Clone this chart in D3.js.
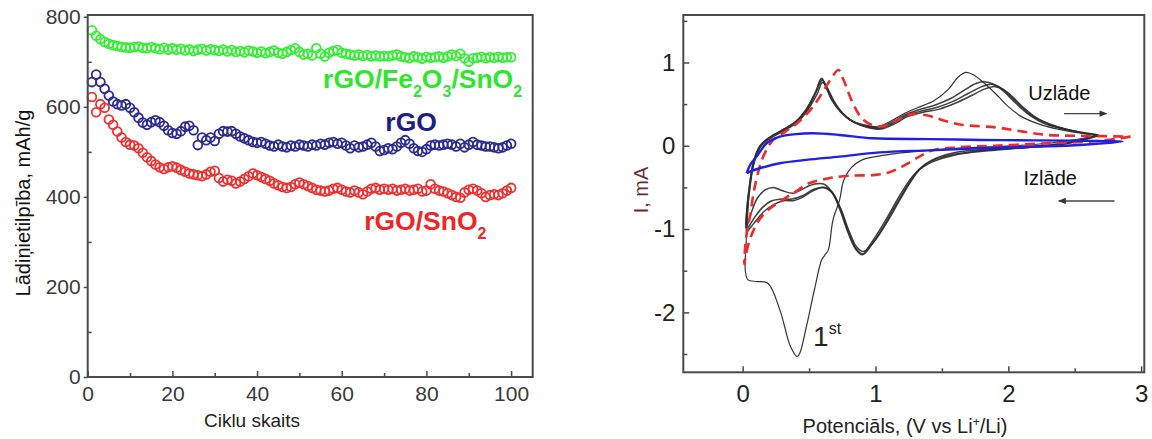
<!DOCTYPE html>
<html>
<head>
<meta charset="utf-8">
<script src="https://cdn.jsdelivr.net/npm/d3@7"></script>
<style>
  body { margin: 0; background: #fff; }
  svg { display: block; font-family: "Liberation Sans", Arial, sans-serif; }
  .frame { fill: none; stroke: #4a4a4a; stroke-width: 2; }
  .axis path { display: none; }
  .axis line { stroke: #4a4a4a; stroke-width: 1.5; }
</style>
</head>
<body>
<div id="chart"></div>
<script>
// ---- left panel: capacity vs cycle number ----
var cycles = d3.range(1, 101);

var capFeSn = [770, 758, 750, 744, 740, 737, 735, 733, 732, 731,
  733, 734, 731, 730, 733, 730, 728, 731, 727, 730,
  727, 729, 725, 728, 724, 727, 729, 725, 728, 726,
  724, 727, 723, 726, 722, 724, 721, 725, 723, 720,
  723, 719, 722, 725, 720, 718, 722, 726, 730, 722,
  716, 718, 714, 730, 718, 712, 720, 724, 726, 720,
  718, 716, 714, 716, 713, 715, 712, 714, 712, 713,
  712, 714, 716, 712, 710, 708, 712, 710, 707, 711,
  709, 710, 712, 709, 712, 716, 713, 718, 708, 700,
  708, 709, 711, 708, 710, 709, 711, 709, 710, 710];

var capRGO = [655, 672, 655, 640, 625, 612, 606, 603, 606, 598,
  588, 576, 565, 560, 566, 570, 566, 558, 548, 542,
  540, 546, 556, 558, 548, 515, 532, 526, 532, 524,
  540, 546, 545, 546, 540, 534, 530, 526, 522, 520,
  522, 518, 514, 512, 516, 512, 510, 514, 512, 516,
  514, 512, 516, 514, 518, 516, 520, 522, 518, 520,
  514, 508, 514, 510, 512, 516, 520, 512, 502, 504,
  508, 506, 512, 520, 526, 518, 508, 502, 500, 506,
  514, 516, 514, 516, 518, 516, 512, 518, 510, 516,
  522, 516, 514, 512, 512, 510, 508, 510, 514, 518];

var capSn = [622, 588, 606, 598, 572, 560, 545, 532, 522, 516,
  514, 508, 498, 488, 480, 472, 466, 462, 466, 468,
  465, 460, 456, 452, 450, 448, 446, 450, 456, 458,
  442, 434, 438, 436, 430, 434, 440, 446, 452, 448,
  444, 440, 436, 430, 426, 422, 420, 422, 428, 432,
  428, 424, 420, 416, 414, 412, 414, 418, 420, 416,
  412, 410, 414, 410, 406, 412, 418, 420, 416, 418,
  416, 418, 414, 416, 418, 414, 416, 418, 412, 414,
  428, 418, 414, 412, 408, 404, 400, 398, 410, 416,
  418, 414, 408, 400, 404, 406, 404, 408, 414, 420];

var leftXTicks = [0, 20, 40, 60, 80, 100];
var leftXMinor = [10, 30, 50, 70, 90];
var leftYTicks = [0, 200, 400, 600, 800];
var leftYMinor = [100, 300, 500, 700];

// ---- right panel: cyclic voltammetry (V, mA) ----
var cvBlue = [[0.03, -0.33], [0.06, -0.22], [0.105, -0.13], [0.18, 0.03], [0.28, 0.11],
  [0.4, 0.14], [0.53, 0.15], [0.73, 0.13], [0.98, 0.09], [1.4, 0.08], [1.79, 0.07],
  [2.2, 0.065], [2.54, 0.06], [2.86, 0.05], [2.54, 0.01], [2.2, -0.01], [1.79, -0.03],
  [1.4, -0.055], [1.03, -0.08], [0.73, -0.13], [0.48, -0.17], [0.28, -0.21],
  [0.13, -0.27], [0.055, -0.31], [0.03, -0.33]];

var cvRed = [[2.92, 0.11], [2.7, 0.06], [2.3, 0.03], [1.9, 0.0], [1.6, -0.02], [1.42, -0.06],
  [1.32, -0.14], [1.2, -0.25], [1.1, -0.32], [1.0, -0.35], [0.8, -0.36], [0.65, -0.39],
  [0.5, -0.45], [0.4, -0.55], [0.3, -0.65], [0.2, -0.76], [0.12, -0.9], [0.06, -1.1],
  [0.025, -1.3], [0.012, -1.42], [0.02, -1.2], [0.035, -1.0], [0.055, -0.85],
  [0.09, -0.5], [0.155, -0.13], [0.23, 0.07], [0.32, 0.17], [0.41, 0.27], [0.53, 0.47],
  [0.66, 0.79], [0.72, 0.91], [0.76, 0.79], [0.83, 0.51], [0.91, 0.31], [1.03, 0.23],
  [1.15, 0.3], [1.27, 0.38], [1.4, 0.36], [1.52, 0.3], [1.66, 0.25], [1.91, 0.22],
  [2.11, 0.17], [2.29, 0.13], [2.54, 0.12], [2.92, 0.11]];

// first cycle (thin line)
var cvCycle1 = [[2.68, 0.12], [2.3, 0.03], [1.9, -0.01], [1.6, -0.03], [1.3, -0.07],
  [1.12, -0.1], [1.0, -0.13], [0.9, -0.17], [0.82, -0.26], [0.76, -0.42], [0.73, -0.65],
  [0.68, -0.89], [0.645, -1.25], [0.62, -1.31], [0.595, -1.37], [0.54, -1.73],
  [0.48, -2.17], [0.43, -2.49], [0.41, -2.53], [0.36, -2.41], [0.28, -1.97],
  [0.19, -1.65], [0.105, -1.63], [0.04, -1.61], [0.02, -1.5], [0.025, -1.2],
  [0.035, -0.9], [0.05, -0.55], [0.08, -0.25], [0.13, -0.02], [0.2, 0.09], [0.3, 0.18],
  [0.4, 0.28], [0.49, 0.44], [0.55, 0.64], [0.59, 0.8], [0.62, 0.74], [0.67, 0.56],
  [0.74, 0.41], [0.82, 0.3], [0.92, 0.25], [1.02, 0.23], [1.12, 0.3], [1.22, 0.39],
  [1.32, 0.46], [1.44, 0.54], [1.55, 0.68], [1.62, 0.82], [1.68, 0.88], [1.74, 0.85],
  [1.82, 0.75], [1.92, 0.6], [2.0, 0.47], [2.1, 0.35], [2.25, 0.25], [2.4, 0.19],
  [2.55, 0.15], [2.68, 0.12]];

var cvCycle2 = [[2.68, 0.13], [2.45, 0.04], [2.15, -0.01], [1.85, -0.04], [1.6, -0.08],
  [1.47, -0.14], [1.36, -0.24], [1.27, -0.42], [1.18, -0.66], [1.09, -0.91],
  [0.99, -1.15], [0.91, -1.27], [0.86, -1.22], [0.8, -1.02], [0.74, -0.76],
  [0.67, -0.55], [0.61, -0.46], [0.54, -0.46], [0.45, -0.52], [0.38, -0.57],
  [0.3, -0.54], [0.23, -0.5], [0.17, -0.53], [0.11, -0.63], [0.07, -0.78],
  [0.04, -0.93], [0.025, -0.98], [0.03, -0.8], [0.05, -0.5], [0.08, -0.2], [0.13, 0.0],
  [0.2, 0.1], [0.3, 0.19], [0.4, 0.29], [0.48, 0.44], [0.55, 0.65], [0.595, 0.81],
  [0.62, 0.73], [0.67, 0.55], [0.74, 0.4], [0.82, 0.3], [0.92, 0.24], [1.02, 0.22],
  [1.12, 0.28], [1.22, 0.37], [1.32, 0.43], [1.45, 0.49], [1.57, 0.57], [1.68, 0.68],
  [1.76, 0.75], [1.82, 0.77], [1.89, 0.74], [1.96, 0.66], [2.05, 0.52], [2.15, 0.38],
  [2.28, 0.26], [2.42, 0.2], [2.56, 0.16], [2.68, 0.13]];

var cvCycle3 = [[2.68, 0.13], [2.45, 0.03], [2.15, -0.02], [1.85, -0.05], [1.6, -0.1],
  [1.44, -0.17], [1.33, -0.28], [1.24, -0.48], [1.15, -0.72], [1.06, -0.97],
  [0.97, -1.19], [0.91, -1.3], [0.86, -1.25], [0.8, -1.05], [0.74, -0.78],
  [0.68, -0.57], [0.62, -0.5], [0.54, -0.52], [0.45, -0.6], [0.37, -0.64],
  [0.29, -0.64], [0.22, -0.66], [0.15, -0.74], [0.09, -0.86], [0.05, -0.96],
  [0.03, -1.0], [0.03, -0.8], [0.05, -0.5], [0.08, -0.21], [0.13, -0.01],
  [0.2, 0.09], [0.3, 0.19], [0.4, 0.29], [0.48, 0.44], [0.55, 0.64], [0.6, 0.79],
  [0.63, 0.71], [0.68, 0.54], [0.75, 0.39], [0.83, 0.29], [0.93, 0.23], [1.03, 0.21],
  [1.13, 0.27], [1.23, 0.36], [1.33, 0.41], [1.46, 0.46], [1.58, 0.53], [1.7, 0.63],
  [1.8, 0.71], [1.87, 0.74], [1.93, 0.71], [2.0, 0.62], [2.09, 0.48], [2.19, 0.35],
  [2.32, 0.25], [2.46, 0.19], [2.58, 0.15], [2.68, 0.13]];

var cvCycle4 = [[2.68, 0.12], [2.45, 0.03], [2.15, -0.02], [1.85, -0.06], [1.6, -0.11],
  [1.42, -0.2], [1.3, -0.33], [1.2, -0.55], [1.11, -0.8], [1.02, -1.04],
  [0.95, -1.21], [0.9, -1.31], [0.85, -1.24], [0.79, -1.03], [0.73, -0.76],
  [0.67, -0.56], [0.6, -0.5], [0.52, -0.55], [0.45, -0.62], [0.38, -0.66],
  [0.31, -0.66], [0.24, -0.7], [0.16, -0.79], [0.09, -0.92], [0.05, -1.0],
  [0.03, -1.04], [0.035, -0.8], [0.055, -0.5], [0.085, -0.2], [0.14, 0.0],
  [0.21, 0.09], [0.31, 0.18], [0.41, 0.28], [0.49, 0.43], [0.56, 0.62], [0.6, 0.76],
  [0.635, 0.7], [0.69, 0.53], [0.76, 0.38], [0.84, 0.28], [0.94, 0.22], [1.04, 0.2],
  [1.14, 0.26], [1.24, 0.35], [1.35, 0.4], [1.48, 0.44], [1.6, 0.51], [1.72, 0.6],
  [1.82, 0.68], [1.9, 0.71], [1.96, 0.68], [2.03, 0.59], [2.12, 0.45], [2.22, 0.33],
  [2.35, 0.24], [2.48, 0.18], [2.6, 0.14], [2.68, 0.12]];

var rightXTicks = [0, 1, 2, 3];
var rightXMinor = [0.5, 1.5, 2.5];
var rightYTicks = [-2, -1, 0, 1];
var rightYMinor = [-2.5, -1.5, -0.5, 0.5, 1.5];

var W = 1152, H = 439;
var svg = d3.select("#chart").append("svg")
    .attr("width", W)
    .attr("height", H);

// ================= left panel =================
var xL = d3.scaleLinear().domain([0, 105.1]).range([87.7, 532.7]);
var yL = d3.scaleLinear().domain([0, 804]).range([377, 15]);

var gL = svg.append("g");

function addAxis(g, axis, transform, fontSize, color) {
  var a = g.append("g").attr("class", "axis").attr("transform", transform).call(axis);
  a.selectAll("text")
    .style("font-size", fontSize + "px")
    .style("fill", color)
    .style("font-family", "'Liberation Sans', Arial, sans-serif");
  return a;
}

addAxis(gL, d3.axisBottom(xL).tickValues(leftXTicks).tickSize(-6).tickPadding(9),
  "translate(0," + yL(0) + ")", 21, "#3a3a3a");
addAxis(gL, d3.axisBottom(xL).tickValues(leftXMinor).tickSize(-4).tickFormat(""),
  "translate(0," + yL(0) + ")", 21, "#3a3a3a");
addAxis(gL, d3.axisLeft(yL).tickValues(leftYTicks).tickSize(4).tickPadding(3),
  "translate(" + xL(0) + ",0)", 21, "#3a3a3a");
addAxis(gL, d3.axisLeft(yL).tickValues(leftYMinor).tickSize(-4).tickFormat(""),
  "translate(" + xL(0) + ",0)", 21, "#3a3a3a");

var seriesL = [
  {values: capFeSn, color: "#33ee33"},
  {values: capRGO, color: "#2a2a90"},
  {values: capSn, color: "#ee3030"}
];

seriesL.forEach((s) => {
  gL.append("g")
    .selectAll("circle")
    .data(s.values)
    .enter().append("circle")
    .attr("cx", (d, i) => xL(cycles[i]))
    .attr("cy", (d) => yL(d))
    .attr("r", 4.4)
    .style("fill", "none")
    .style("stroke", s.color)
    .style("stroke-width", 1.8);
});

gL.append("rect").attr("class", "frame")
  .attr("x", xL.range()[0]).attr("y", yL.range()[1])
  .attr("width", xL.range()[1] - xL.range()[0])
  .attr("height", yL.range()[0] - yL.range()[1]);

// series labels with subscripts
function chemLabel(g, x, y, parts, color) {
  var t = g.append("text")
    .attr("x", x).attr("y", y)
    .style("font-size", "26.5px")
    .style("font-weight", "bold")
    .style("fill", color);
  parts.forEach((p) => {
    if (p.sub) {
      t.append("tspan").attr("dy", 9).style("font-size", "16px").text(p.t);
    } else {
      t.append("tspan").attr("dy", p.back ? -9 : 0).text(p.t);
    }
  });
}

chemLabel(gL, xL(55.6), yL(642), [{t: "rGO/Fe"}, {t: "2", sub: true}, {t: "O", back: true},
  {t: "3", sub: true}, {t: "/SnO", back: true}, {t: "2", sub: true}], "#2ee62e");
chemLabel(gL, xL(70.3), yL(546), [{t: "rGO"}], "#1e1e82");
chemLabel(gL, xL(65.3), yL(326), [{t: "rGO/SnO"}, {t: "2", sub: true}], "#ee2626");

gL.append("text")
  .attr("transform", "translate(23,203) rotate(-90)")
  .attr("text-anchor", "middle")
  .attr("dy", "0.35em")
  .style("font-size", "20px")
  .style("fill", "#111")
  .text("Lādiņietilpība, mAh/g");

gL.append("text")
  .attr("x", 252).attr("y", 427)
  .attr("text-anchor", "middle")
  .style("font-size", "19px")
  .style("fill", "#222")
  .text("Ciklu skaits");

// ================= right panel =================
var xR = d3.scaleLinear().domain([-0.447, 3.024]).range([683.3, 1144.3]);
var yR = d3.scaleLinear().domain([-2.72, 1.57]).range([372.3, 15]);

var gR = svg.append("g");

addAxis(gR, d3.axisBottom(xR).tickValues(rightXTicks).tickSize(-6).tickPadding(13).tickFormat(d3.format("d")),
  "translate(0," + yR.range()[0] + ")", 24, "#222");
addAxis(gR, d3.axisBottom(xR).tickValues(rightXMinor).tickSize(-4).tickFormat(""),
  "translate(0," + yR.range()[0] + ")", 24, "#222");
addAxis(gR, d3.axisLeft(yR).tickValues(rightYTicks).tickSize(-6).tickPadding(8).tickFormat((d) => d < 0 ? "-" + (-d) : d),
  "translate(" + xR.range()[0] + ",0)", 24, "#222");
addAxis(gR, d3.axisLeft(yR).tickValues(rightYMinor).tickSize(-4).tickFormat(""),
  "translate(" + xR.range()[0] + ",0)", 24, "#222");

var cvLine = d3.line()
  .x((d) => xR(d[0]))
  .y((d) => yR(d[1]))
  .curve(d3.curveCatmullRom.alpha(0.5));

[cvCycle2, cvCycle3, cvCycle4].forEach((c) => {
  gR.append("path")
    .attr("d", cvLine(c))
    .style("fill", "none")
    .style("stroke", "#2a2a2a")
    .style("stroke-width", 1.5)
    .style("opacity", 0.9);
});

gR.append("path")
  .attr("d", cvLine(cvCycle1))
  .style("fill", "none")
  .style("stroke", "#333")
  .style("stroke-width", 1.2);

gR.append("path")
  .attr("d", cvLine(cvRed))
  .style("fill", "none")
  .style("stroke", "#ee2b2b")
  .style("stroke-width", 2.6)
  .style("stroke-dasharray", "10,6");

gR.append("path")
  .attr("d", cvLine(cvBlue))
  .style("fill", "none")
  .style("stroke", "#1f1fe6")
  .style("stroke-width", 2.4);

gR.append("rect").attr("class", "frame")
  .attr("x", xR.range()[0]).attr("y", yR.range()[1])
  .attr("width", xR.range()[1] - xR.range()[0])
  .attr("height", yR.range()[0] - yR.range()[1]);

// annotations
svg.append("defs").append("marker")
  .attr("id", "arrow")
  .attr("viewBox", "0 0 10 10")
  .attr("refX", 9).attr("refY", 5)
  .attr("markerWidth", 7).attr("markerHeight", 6)
  .attr("orient", "auto")
  .append("path")
  .attr("d", "M0,1 L10,5 L0,9 z")
  .style("fill", "#333");

gR.append("text")
  .attr("x", xR(2.15)).attr("y", yR(0.555))
  .style("font-size", "20px").style("fill", "#111")
  .text("Uzlāde");
gR.append("line")
  .attr("x1", xR(2.42)).attr("x2", xR(2.74))
  .attr("y1", yR(0.387)).attr("y2", yR(0.387))
  .style("stroke", "#444").style("stroke-width", 1.3)
  .attr("marker-end", "url(#arrow)");

gR.append("text")
  .attr("x", xR(2.115)).attr("y", yR(-0.471))
  .style("font-size", "20px").style("fill", "#111")
  .text("Izlāde");
gR.append("line")
  .attr("x1", xR(2.8)).attr("x2", xR(2.38))
  .attr("y1", yR(-0.663)).attr("y2", yR(-0.663))
  .style("stroke", "#444").style("stroke-width", 1.3)
  .attr("marker-end", "url(#arrow)");

var first = gR.append("text")
  .attr("x", xR(0.53)).attr("y", yR(-2.41))
  .style("font-size", "28px").style("fill", "#222");
first.append("tspan").text("1");
first.append("tspan").attr("dy", -12).style("font-size", "16px").text("st");

gR.append("text")
  .attr("transform", "translate(641,190) rotate(-90)")
  .attr("text-anchor", "middle")
  .attr("dy", "0.35em")
  .style("font-size", "20px")
  .style("fill", "#6e2e2e")
  .text("I, mA");

var xl = gR.append("text")
  .attr("x", 905).attr("y", 433)
  .attr("text-anchor", "middle")
  .style("font-size", "20px")
  .style("fill", "#222");
xl.append("tspan").text("Potenciāls, (V vs Li");
xl.append("tspan").attr("dy", -7).style("font-size", "12px").text("+");
xl.append("tspan").attr("dy", 7).text("/Li)");
</script>
</body>
</html>
